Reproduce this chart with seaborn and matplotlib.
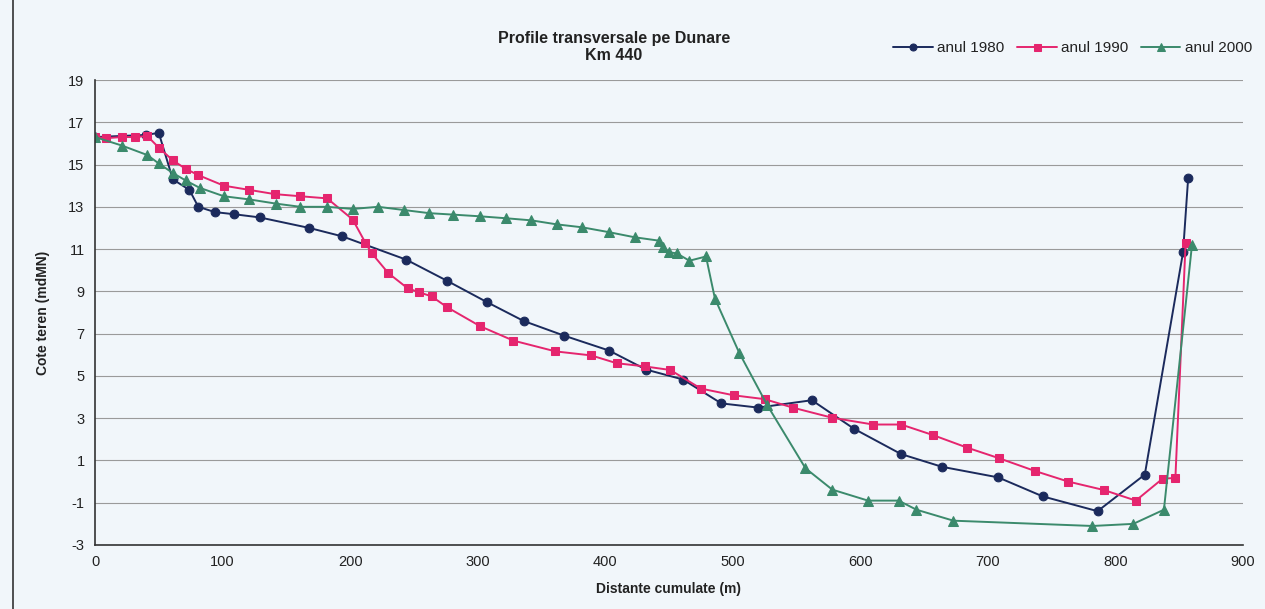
import matplotlib
matplotlib.use("Agg")
import matplotlib.pyplot as plt
from matplotlib.lines import Line2D
from matplotlib.ticker import MultipleLocator
import seaborn as sns
import pandas as pd

# ---- data ----
x_1980 = [0, 40, 50, 61, 74, 81, 94, 109, 129, 168, 194, 244, 276, 307, 336, 368, 403, 432,
          461, 491, 520, 562, 595, 632, 664, 708, 743, 786, 823, 853, 857]
y_1980 = [16.3, 16.4, 16.5, 14.3, 13.8, 13.0, 12.75, 12.65, 12.5, 12.0, 11.6, 10.5, 9.5, 8.5,
          7.6, 6.9, 6.2, 5.3, 4.83, 3.7, 3.5, 3.85, 2.5, 1.3, 0.7, 0.2, -0.7, -1.4, 0.33, 10.85, 14.36]

x_1990 = [0, 9, 21, 31, 41, 50, 61, 71, 81, 101, 121, 141, 161, 182, 202, 212, 217, 230, 245,
          254, 264, 276, 302, 328, 361, 389, 409, 431, 451, 475, 501, 525, 547, 578, 610, 632,
          657, 684, 709, 737, 763, 791, 816, 837, 847, 855]
y_1990 = [16.3, 16.25, 16.3, 16.3, 16.35, 15.8, 15.2, 14.8, 14.5, 14.0, 13.8, 13.6, 13.5, 13.4,
          12.4, 11.3, 10.8, 9.86, 9.15, 8.96, 8.76, 8.25, 7.35, 6.67, 6.16, 5.97, 5.6, 5.45, 5.28,
          4.4, 4.08, 3.9, 3.5, 3.02, 2.7, 2.7, 2.2, 1.6, 1.1, 0.5, 0.0, -0.4, -0.9, 0.14, 0.17, 11.3]

x_2000 = [0, 21, 41, 50, 61, 71, 82, 101, 121, 142, 161, 182, 202, 222, 242, 262, 281, 302, 322,
          342, 362, 382, 403, 423, 442, 445, 450, 456, 466, 479, 486, 505, 527, 557, 578, 606,
          630, 644, 673, 782, 814, 838, 860]
y_2000 = [16.3, 15.9, 15.45, 15.05, 14.6, 14.25, 13.9, 13.5, 13.35, 13.15, 13.0, 13.0, 12.9,
          13.0, 12.85, 12.7, 12.63, 12.55, 12.46, 12.36, 12.17, 12.03, 11.8, 11.56, 11.4, 11.1,
          10.85, 10.8, 10.45, 10.65, 8.66, 6.1, 3.62, 0.63, -0.38, -0.9, -0.9, -1.33, -1.85,
          -2.1, -2.0, -1.33, 11.2]

series_labels = ["anul 1980", "anul 1990", "anul 2000"]
title_text = "Profile transversale pe Dunare\nKm 440"
x_label = "Distante cumulate (m)"
y_label = "Cote teren (mdMN)"
x_ticks = [0, 100, 200, 300, 400, 500, 600, 700, 800, 900]
y_ticks = [-3, -1, 1, 3, 5, 7, 9, 11, 13, 15, 17, 19]

# ---- style ----
sns.set_style("white")
plt.rcParams["font.family"] = ["Liberation Sans", "DejaVu Sans"]
plt.rcParams["axes.unicode_minus"] = False

bg = "#f1f6fa"
colors = ["#1b2a5c", "#e5256e", "#3b8a6c"]
markers = ["o", "s", "^"]
msizes = [6.3, 6.3, 6.8]

fig = plt.figure(figsize=(12.65, 6.09), dpi=100, facecolor=bg)
ax = fig.add_axes([95 / 1265, 1 - 545 / 609, (1243 - 95) / 1265, (545 - 80) / 609])
ax.set_facecolor(bg)

for xs, ys, lab, c, m, ms in zip([x_1980, x_1990, x_2000], [y_1980, y_1990, y_2000],
                                 series_labels, colors, markers, msizes):
    df = pd.DataFrame({"x": xs, "y": ys})
    sns.lineplot(data=df, x="x", y="y", ax=ax, color=c, marker=m, markersize=ms,
                 markeredgecolor=c, linewidth=1.4, estimator=None, sort=False, label=lab)

ax.set_xlim(0, 900)
ax.set_ylim(-3, 19)
ax.set_xticks(x_ticks)
ax.set_yticks(y_ticks)
ax.xaxis.set_minor_locator(MultipleLocator(50))
ax.yaxis.set_minor_locator(MultipleLocator(1))
ax.tick_params(axis="both", which="major", labelsize=10.5, length=4, direction="out",
               colors="#333333", labelcolor="#222222")
ax.tick_params(axis="both", which="minor", length=3, direction="out", colors="#333333")
ax.grid(axis="y", which="major", color="#9a9a9a", linewidth=0.8)
ax.grid(axis="x", visible=False)

for s in ["top", "right"]:
    ax.spines[s].set_visible(False)
for s in ["left", "bottom"]:
    ax.spines[s].set_color("#333333")
    ax.spines[s].set_linewidth(1.2)

ax.set_xlabel(x_label, fontsize=10, fontweight="bold", labelpad=9, color="#222222")
ax.set_ylabel(y_label, fontsize=10, fontweight="bold", labelpad=13, color="#222222")

fig.text(614 / 1265, 1 - 47 / 609, title_text, ha="center", va="center",
         fontsize=11.5, fontweight="bold", color="#222222", linespacing=1.1)

leg = ax.legend(loc="center right", bbox_to_anchor=(1266 / 1265, 1 - 48 / 609),
                bbox_transform=fig.transFigure, ncol=3, frameon=False, fontsize=11,
                handlelength=2.6, handletextpad=0.3, columnspacing=0.8, markerscale=0.8)
for t in leg.get_texts():
    t.set_color("#222222")

fig.add_artist(Line2D([13 / 1265, 13 / 1265], [0, 1], transform=fig.transFigure,
                      color="#333333", linewidth=1.2))

fig.savefig("out.png", dpi=100, facecolor=bg)
